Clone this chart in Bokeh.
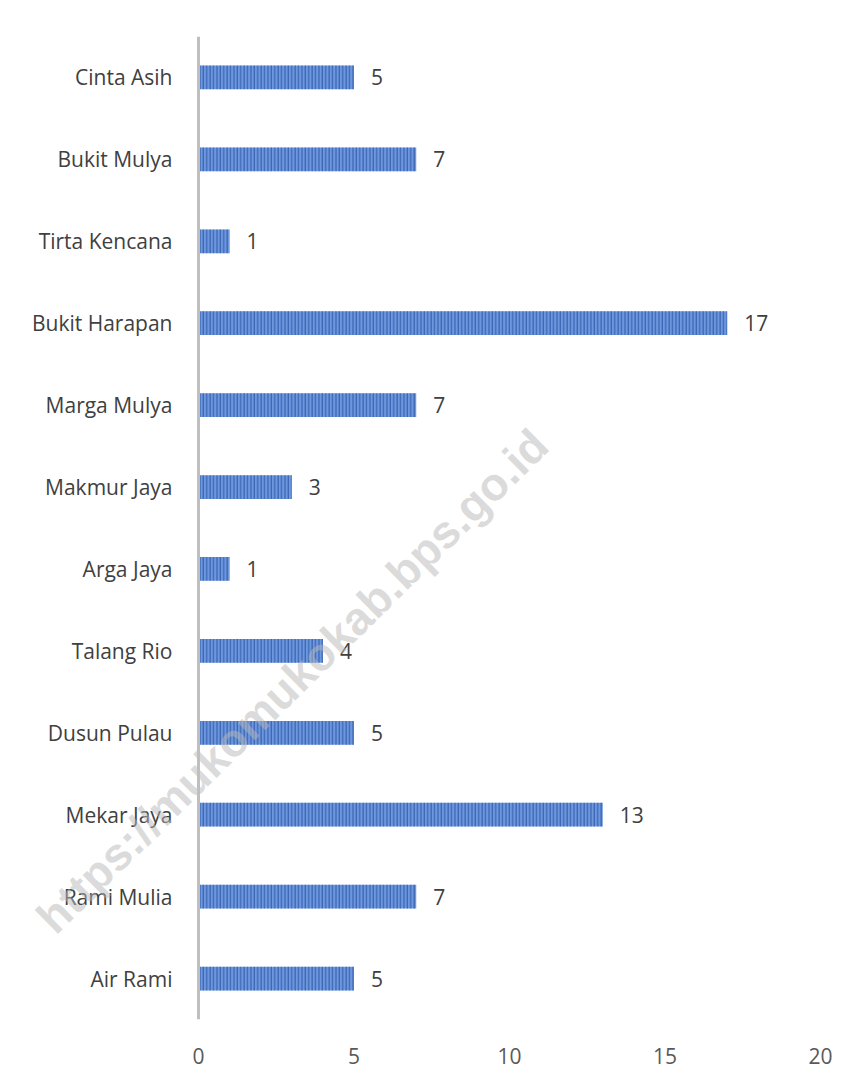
from bokeh.plotting import figure
from bokeh.models import ColumnDataSource, FactorRange, Range1d, FixedTicker, Span
from bokeh.core.properties import value
from bokeh.embed import file_html
from bokeh.resources import INLINE

villages = ["Cinta Asih", "Bukit Mulya", "Tirta Kencana", "Bukit Harapan", "Marga Mulya",
            "Makmur Jaya", "Arga Jaya", "Talang Rio", "Dusun Pulau", "Mekar Jaya",
            "Rami Mulia", "Air Rami"]
counts = [5, 7, 1, 17, 7, 3, 1, 4, 5, 13, 7, 5]
x_ticks = [0, 5, 10, 15, 20]
watermark = "https://mukomukokab.bps.go.id"

FONT = "Open Sans"

src = ColumnDataSource(dict(v=villages, c=counts, lab=[str(c) for c in counts],
                            zero=[0] * len(villages)))

p = figure(width=849, height=1069, output_backend="svg", toolbar_location=None,
           y_range=FactorRange(factors=list(reversed(villages)), range_padding=0),
           x_range=Range1d(-6.302, 20))
p.min_border_left = 2
p.min_border_right = 29
p.min_border_top = 36
p.min_border_bottom = 50
p.outline_line_color = None
p.grid.visible = False
p.background_fill_color = "white"
p.border_fill_color = "white"
p.yaxis.visible = False

p.hbar(y="v", right="c", left=0, height=0.29, source=src,
       fill_color="#6d98de", line_color=None,
       hatch_pattern="vertical_line", hatch_color="#2f56a8",
       hatch_scale=3.4, hatch_weight=1.0)

# vertical category axis line at x = 0
p.add_layout(Span(location=0, dimension="height", line_color="#bfbfbf", line_width=3))

# category labels
p.text(x="zero", y="v", text="v", source=src, x_offset=-26,
       text_align="right", text_baseline="middle",
       text_font=value(FONT), text_font_size="21px", text_color="#404040")

# value labels
p.text(x="c", y="v", text="lab", source=src, x_offset=17,
       text_align="left", text_baseline="middle",
       text_font=value(FONT), text_font_size="21px", text_color="#404040")

# watermark
p.text(x=[3.02], y=["Talang Rio"], text=[watermark], y_offset=30,
       angle=44.5, angle_units="deg", text_align="center", text_baseline="middle",
       text_font=value("Liberation Sans"), text_font_style="bold",
       text_font_size="46px", text_color="#b8b8b8", text_alpha=0.5)

xa = p.xaxis[0]
xa.ticker = FixedTicker(ticks=x_ticks)
xa.axis_line_color = None
xa.major_tick_line_color = None
xa.minor_tick_line_color = None
xa.major_label_standoff = 22
xa.major_label_text_font = FONT
xa.major_label_text_font_size = "21px"
xa.major_label_text_color = "#595959"

open("out.html", "w").write(file_html(p, INLINE))
